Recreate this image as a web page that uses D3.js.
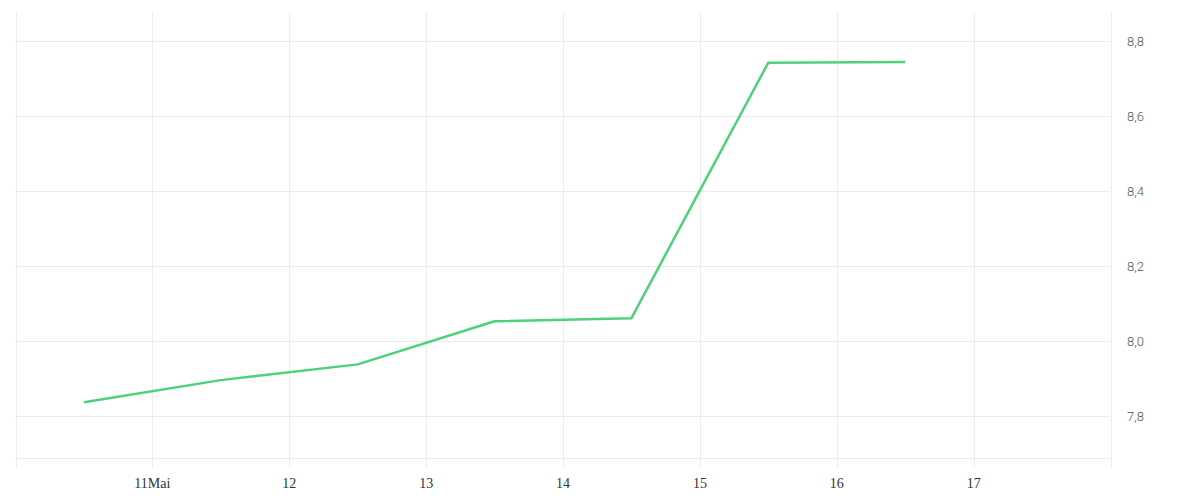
<!DOCTYPE html>
<html>
<head>
<meta charset="utf-8">
<script src="https://cdn.jsdelivr.net/npm/d3@7"></script>
<style>
html,body{margin:0;padding:0;background:#fff;}
svg{display:block;}
.xl{font-family:"Liberation Serif","DejaVu Serif",serif;font-size:14px;fill:#333;}
.yl{font-family:Roboto,"Open Sans",sans-serif;font-weight:300;font-size:13px;fill:#555;}
</style>
</head>
<body>
<svg id="c" width="1200" height="500"></svg>
<script>
// Data
const dates = ["2024-05-10T12:00","2024-05-11T12:00","2024-05-12T12:00","2024-05-13T12:00","2024-05-14T12:00","2024-05-15T12:00","2024-05-16T12:00"];
const values = [7.837, 7.896, 7.938, 8.053, 8.061, 8.742, 8.744];
const xTickDates = ["2024-05-11","2024-05-12","2024-05-13","2024-05-14","2024-05-15","2024-05-16","2024-05-17"];
const xTickLabels = ["11Mai","12","13","14","15","16","17"];
const yTicks = [7.8, 8.0, 8.2, 8.4, 8.6, 8.8];
const yTickLabels = ["7,8","8,0","8,2","8,4","8,6","8,8"];

const parse = d3.timeParse("%Y-%m-%dT%H:%M");
const parseDay = d3.timeParse("%Y-%m-%d");
const pts = dates.map((d,i)=>({t:parse(d), v:values[i]}));

const L = 15.5, R = 1110.5, T = 12, B = 458.3;
const x = d3.scaleTime().domain([parseDay("2024-05-10"), parseDay("2024-05-18")]).range([L, R]);
const y = d3.scaleLinear().domain([7.6877, 8.877]).range([B, T]);

const svg = d3.select("#c");
const grid = svg.append("g");

const vDates = [parseDay("2024-05-10")].concat(xTickDates.map(parseDay)).concat([parseDay("2024-05-18")]);
grid.selectAll("line.v").data(vDates).enter().append("line")
  .attr("x1", d=>Math.round(x(d))+0.5).attr("x2", d=>Math.round(x(d))+0.5)
  .attr("y1", T).attr("y2", 468)
  .attr("stroke", "#ececec").attr("stroke-width", 1);

grid.selectAll("line.h").data(yTicks).enter().append("line")
  .attr("x1", L).attr("x2", R)
  .attr("y1", d=>Math.round(y(d))+0.5).attr("y2", d=>Math.round(y(d))+0.5)
  .attr("stroke", "#ececec").attr("stroke-width", 1);
grid.append("line").attr("x1", L).attr("x2", R)
  .attr("y1", Math.round(B)+0.5).attr("y2", Math.round(B)+0.5)
  .attr("stroke", "#ececec").attr("stroke-width", 1);

svg.append("g").selectAll("text").data(xTickDates).enter().append("text")
  .attr("class","xl")
  .attr("x", d=>x(parseDay(d)))
  .attr("y", 488)
  .attr("text-anchor","middle")
  .text((d,i)=>xTickLabels[i]);

svg.append("g").selectAll("text").data(yTicks).enter().append("text")
  .attr("class","yl")
  .attr("x", 1127)
  .attr("y", d=>y(d)+5)
  .text((d,i)=>yTickLabels[i]);

const line = d3.line().x(d=>x(d.t)).y(d=>y(d.v));
svg.append("path").datum(pts)
  .attr("d", line)
  .attr("fill","none")
  .attr("stroke","#4cd27a")
  .attr("stroke-width",2.5)
  .attr("stroke-linejoin","round");
</script>
</body>
</html>
